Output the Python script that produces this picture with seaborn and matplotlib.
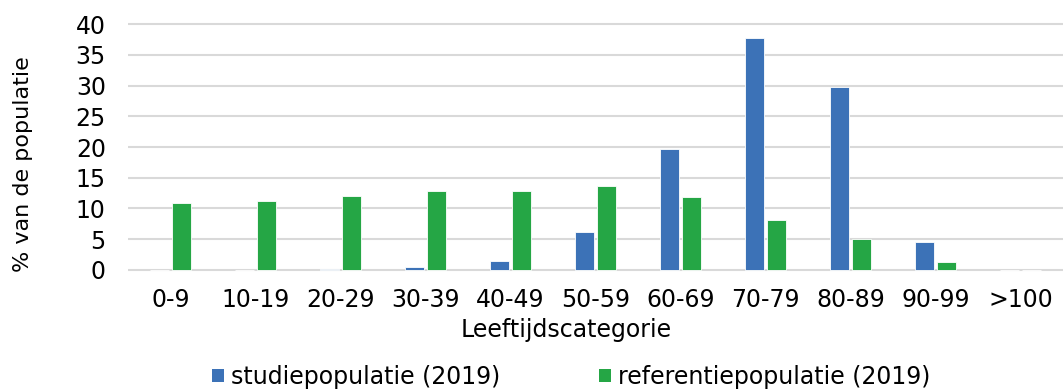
import matplotlib
matplotlib.use("Agg")
import matplotlib.pyplot as plt
import pandas as pd
import seaborn as sns
from matplotlib.patches import Patch

# ─── Data ────────────────────────────────────────────────────────────────────
categories = ["0-9", "10-19", "20-29", "30-39", "40-49", "50-59",
              "60-69", "70-79", "80-89", "90-99", ">100"]
studie = [0.05, 0.05, 0.1, 0.4, 1.4, 6.2, 19.6, 37.7, 29.7, 4.5, 0.05]
referentie = [10.9, 11.2, 12.0, 12.9, 12.9, 13.7, 11.8, 8.2, 5.0, 1.25, 0.0]
series_names = ["studiepopulatie (2019)", "referentiepopulatie (2019)"]
colors = ["#3C72B7", "#25A645"]

df = pd.DataFrame({
    "cat": categories * 2,
    "val": studie + referentie,
    "serie": [series_names[0]] * len(categories) + [series_names[1]] * len(categories),
})

sns.set_style("white")
plt.rcParams["font.family"] = ["DejaVu Sans"]
plt.rcParams["text.color"] = "black"

W, H = 1063, 389
fig = plt.figure(figsize=(W / 100, H / 100), dpi=100)
ax = fig.add_axes([128 / W, 1 - 273 / H, 1 - 128 / W, 252 / H])

sns.barplot(data=df, x="cat", y="val", hue="serie", palette=colors,
            saturation=1, width=0.52, gap=0.12, edgecolor="white",
            linewidth=0.6, legend=False, ax=ax)

ax.set_xlim(-0.5, 10.5)
ax.set_ylim(-0.5, 40.5)
ax.set_yticks(range(0, 41, 5))
ax.yaxis.grid(True, color="#D9D9D9", linewidth=1.5)
ax.set_axisbelow(True)
for s in ax.spines.values():
    s.set_visible(False)
ax.tick_params(axis="both", length=0, labelsize=17, colors="black")
ax.tick_params(axis="y", pad=16)
ax.tick_params(axis="x", pad=11)

ax.set_xlabel("")
ax.set_ylabel("")
fig.text(566 / W, 1 - 330 / H, "Leeftijdscategorie", fontsize=17,
         ha="center", va="center")
fig.text(23 / W, 1 - 164 / H, "% van de populatie", fontsize=16,
         rotation=90, ha="center", va="center")

handles = [Patch(facecolor=c, edgecolor="none") for c in colors]
fig.legend(handles, series_names, loc="center", ncol=2,
           bbox_to_anchor=(571 / W, 12 / H), frameon=False,
           fontsize=17, handlelength=0.5, handleheight=0.5,
           handletextpad=0.3, columnspacing=4.2)

fig.savefig("out.png", dpi=100)
